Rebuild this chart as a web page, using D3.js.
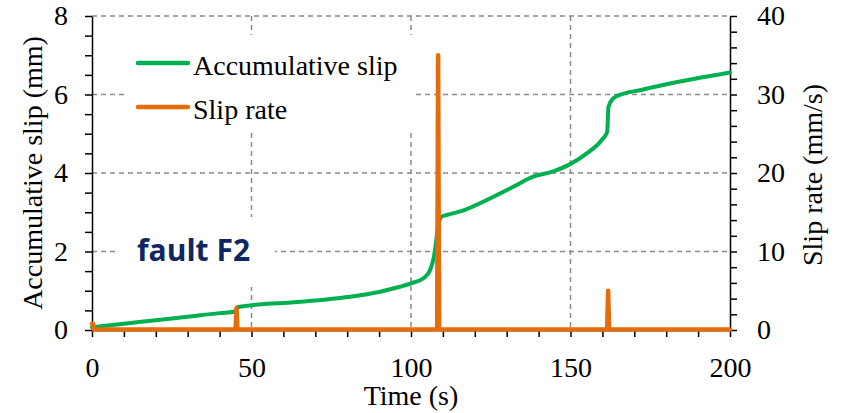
<!DOCTYPE html>
<html>
<head>
<meta charset="utf-8">
<script src="https://cdn.jsdelivr.net/npm/d3@7/dist/d3.min.js"></script>
<style>
  html, body { margin: 0; padding: 0; background: #fff; }
  svg { display: block; }
  .tick text { font-family: "Liberation Serif", "Times New Roman", serif; font-size: 28px; fill: #000; }
</style>
</head>
<body>
<svg id="chart" width="842" height="413"></svg>
<script>
// Accumulative slip of fault F2 (mm) against time (s)
const slipTime = [0, 10, 20, 30, 40, 45.2, 45.5, 50, 60, 70, 80, 90, 95, 100, 103.9, 106, 107.1, 107.8, 108.3, 108.8, 109.6, 111.2, 116.9, 121.6, 132.1, 138.3, 144.1, 149.3, 155.1, 159.8, 161.5, 161.9, 163.4, 165.5, 171.8, 184.3, 200];
const slipValue = [0.07, 0.16, 0.25, 0.34, 0.43, 0.47, 0.58, 0.63, 0.69, 0.75, 0.84, 0.97, 1.07, 1.19, 1.32, 1.53, 1.83, 2.2, 2.55, 2.75, 2.89, 2.93, 3.06, 3.23, 3.65, 3.91, 4.03, 4.20, 4.50, 4.84, 5.05, 5.69, 5.90, 5.99, 6.11, 6.33, 6.56];

// Slip rate (mm/s) against time (s)
const rateTime = [0, 0.3, 0.6, 45.0, 45.3, 45.6, 108.2, 108.5, 108.8, 161.5, 161.8, 162.1, 200];
const rateValue = [0.8, 0.8, 0.05, 0.05, 2.8, 0.05, 0.05, 35.0, 0.05, 0.05, 5.0, 0.05, 0.05];

// Axis ticks and labels
const xTicks = d3.range(0, 201, 10);
const xLabels = [0, 50, 100, 150, 200];
const yLeftTicks = d3.range(0, 8.01, 0.5);
const yLeftLabels = [0, 2, 4, 6, 8];
const yRightTicks = d3.range(0, 40.01, 2);
const yRightLabels = [0, 10, 20, 30, 40];
const xGrid = [50, 100, 150];
const yGrid = [2, 4, 6, 8];

const seriesNames = ["Accumulative slip", "Slip rate"];
const seriesColors = ["#00b050", "#e46c0a"];

const svg = d3.select("#chart");
const plotL = 92, plotR = 730, plotT = 16, plotB = 330;

const x = d3.scaleLinear().domain([0, 200]).range([plotL, plotR]);
const yL = d3.scaleLinear().domain([0, 8]).range([plotB, plotT]);
const yR = d3.scaleLinear().domain([0, 40]).range([plotB, plotT]);

// Dashed grid
const grid = svg.append("g").attr("stroke", "#8a8a8a").attr("stroke-width", 1.5).attr("stroke-dasharray", "5,4");
grid.selectAll("line.h").data(yGrid).join("line").attr("class", "h")
  .attr("x1", plotL).attr("x2", plotR).attr("y1", d => yL(d)).attr("y2", d => yL(d));
grid.selectAll("line.v").data(xGrid).join("line").attr("class", "v")
  .attr("x1", d => x(d)).attr("x2", d => x(d)).attr("y1", plotT).attr("y2", plotB);

// White panels behind the legend and the fault label
svg.append("rect").attr("x", 125).attr("y", 35).attr("width", 290).attr("height", 98).attr("fill", "#fff");
svg.append("rect").attr("x", 118).attr("y", 217).attr("width", 157).attr("height", 70).attr("fill", "#fff");

// Axes
function styleAxis(g) {
  g.selectAll(".domain").attr("stroke", "#000").attr("stroke-width", 1.5);
  g.selectAll(".tick line").attr("stroke", "#000").attr("stroke-width", 1.5);
}
svg.append("g").attr("transform", `translate(0,${plotB})`)
  .call(d3.axisBottom(x).tickValues(xTicks).tickSize(7).tickSizeOuter(0).tickPadding(20)
    .tickFormat(d => xLabels.includes(d) ? d : ""))
  .call(styleAxis);
svg.append("g").attr("transform", `translate(${plotL},0)`)
  .call(d3.axisLeft(yL).tickValues(yLeftTicks).tickSize(7).tickSizeOuter(0).tickPadding(17)
    .tickFormat(d => yLeftLabels.includes(d) ? d : ""))
  .call(styleAxis);
svg.append("g").attr("transform", `translate(${plotR},0)`)
  .call(d3.axisRight(yR).tickValues(yRightTicks).tickSize(7).tickSizeOuter(0).tickPadding(20)
    .tickFormat(d => yRightLabels.includes(d) ? d : ""))
  .call(styleAxis);

// Series lines
const slipData = slipTime.map((t, i) => [t, slipValue[i]]);
const rateData = rateTime.map((t, i) => [t, rateValue[i]]);

svg.append("path").datum(slipData)
  .attr("fill", "none").attr("stroke", seriesColors[0]).attr("stroke-width", 4)
  .attr("stroke-linejoin", "round").attr("stroke-linecap", "round")
  .attr("d", d3.line().x(d => x(d[0])).y(d => yL(d[1])).curve(d3.curveMonotoneX));

svg.append("path").datum(rateData)
  .attr("fill", "none").attr("stroke", seriesColors[1]).attr("stroke-width", 4.5)
  .attr("stroke-linejoin", "round").attr("stroke-linecap", "round")
  .attr("d", d3.line().x(d => x(d[0])).y(d => yR(d[1])));

// Legend
const serif = '"Liberation Serif", "Times New Roman", serif';
const legend = svg.append("g");
seriesNames.forEach((name, i) => {
  const cy = 63 + i * 44;
  legend.append("line").attr("x1", 138).attr("x2", 188).attr("y1", cy).attr("y2", cy)
    .attr("stroke", seriesColors[i]).attr("stroke-width", 4.5).attr("stroke-linecap", "round");
  legend.append("text").attr("x", 193).attr("y", cy + 12)
    .attr("font-family", serif).attr("font-size", 28).attr("fill", "#000").text(name);
});

// Fault label
svg.append("text").attr("x", 137).attr("y", 261)
  .attr("font-family", '"Open Sans", "Noto Sans", sans-serif').attr("font-weight", 700)
  .attr("font-size", 30).attr("fill", "#0e2761").text("fault F2");

// Axis titles
svg.append("text").attr("x", (plotL + plotR) / 2).attr("y", 405).attr("text-anchor", "middle")
  .attr("font-family", serif).attr("font-size", 28).text("Time (s)");
svg.append("text").attr("transform", `translate(42,${(plotT + plotB) / 2}) rotate(-90)`)
  .attr("text-anchor", "middle").attr("font-family", serif).attr("font-size", 28)
  .text("Accumulative slip (mm)");
svg.append("text").attr("transform", `translate(822,${(plotT + plotB) / 2 + 2}) rotate(-90)`)
  .attr("text-anchor", "middle").attr("font-family", serif).attr("font-size", 28)
  .text("Slip rate (mm/s)");
</script>
</body>
</html>
